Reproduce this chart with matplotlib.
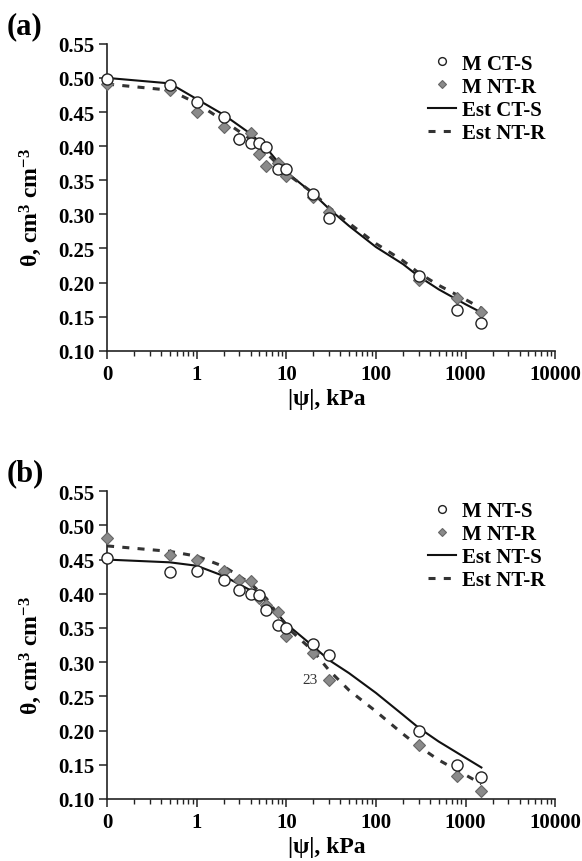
import numpy as np
import matplotlib
matplotlib.use('Agg')
import matplotlib.pyplot as plt
from matplotlib.ticker import FixedLocator, FixedFormatter, LogLocator, NullFormatter

plt.rcParams['font.family'] = ['Liberation Serif', 'DejaVu Serif']
plt.rcParams['font.weight'] = 'bold'
plt.rcParams['mathtext.fontset'] = 'custom'
plt.rcParams['mathtext.rm'] = 'Liberation Serif:bold'
plt.rcParams['mathtext.it'] = 'Liberation Serif:bold'
plt.rcParams['mathtext.bf'] = 'Liberation Serif:bold'

# ========== Data ==========
# measured suctions (kPa); 0 is drawn at the "0" tick (0.1 on the log axis)
psi_meas = [0, 0.5, 1, 2, 3, 4, 5, 6, 8, 10, 20, 30, 300, 800, 1500]
psi_est = [0, 0.5, 1, 2, 4, 6, 10, 20, 30, 50, 100, 200, 300, 500, 1000, 1500]

# panel (a)
a_m_cts = [0.498, 0.490, 0.465, 0.442, 0.410, 0.405, 0.405, 0.398, 0.366, 0.366,
           0.330, 0.294, 0.210, 0.159, 0.141]
a_m_ntr = [0.491, 0.482, 0.450, 0.428, 0.410, 0.419, 0.389, 0.371, 0.375, 0.356,
           0.326, 0.303, 0.203, 0.178, 0.157]
a_est_cts = [0.500, 0.492, 0.469, 0.446, 0.418, 0.397, 0.362, 0.330, 0.308, 0.283,
             0.252, 0.227, 0.209, 0.190, 0.168, 0.156]
a_est_ntr = [0.491, 0.482, 0.463, 0.437, 0.410, 0.390, 0.360, 0.331, 0.310, 0.287,
             0.257, 0.232, 0.214, 0.196, 0.175, 0.162]

# panel (b)
b_m_nts = [0.452, 0.432, 0.434, 0.420, 0.405, 0.399, 0.398, 0.376, 0.355, 0.350,
           0.326, 0.310, 0.200, 0.150, 0.132]
b_m_ntr = [0.482, 0.457, 0.450, 0.434, 0.420, 0.418, 0.394, 0.383, 0.374, 0.338,
           0.313, 0.274, 0.179, 0.134, 0.112]
b_est_nts = [0.450, 0.446, 0.441, 0.426, 0.405, 0.389, 0.356, 0.323, 0.303, 0.284,
             0.255, 0.223, 0.204, 0.184, 0.160, 0.146]
b_est_ntr = [0.470, 0.462, 0.455, 0.440, 0.415, 0.393, 0.352, 0.316, 0.288, 0.259,
             0.228, 0.195, 0.177, 0.157, 0.135, 0.122]

x_ticks = [0.1, 1, 10, 100, 1000, 10000]
x_ticklabels = ['0', '1', '10', '100', '1000', '10000']
y_ticks = [0.10, 0.15, 0.20, 0.25, 0.30, 0.35, 0.40, 0.45, 0.50, 0.55]


def xpos(v):
    v = np.asarray(v, dtype=float)
    return np.where(v == 0, 0.1, v)


def draw_panel(ax, m_s, m_r, est_s, est_r, labels, tag):
    ax.plot(xpos(psi_est), est_s, color='#111111', lw=1.5, ls='-', label=labels[2],
            zorder=2, clip_on=False)
    ax.plot(xpos(psi_est), est_r, color='#333333', lw=2.2, ls=(0, (2.3, 2.7)),
            label=labels[3], zorder=2, clip_on=False)
    ax.plot(xpos(psi_meas), m_r, ls='none', marker='D', ms=6.5, mfc='#8a8a8a',
            mec='#666666', mew=0.8, label=labels[1], zorder=3, clip_on=False)
    ax.plot(xpos(psi_meas), m_s, ls='none', marker='o', ms=8, mfc='white',
            mec='#222222', mew=1.0, label=labels[0], zorder=4, clip_on=False)

    ax.set_xscale('log')
    ax.set_xlim(0.1, 10000)
    ax.set_ylim(0.10, 0.55)
    ax.xaxis.set_major_locator(FixedLocator(x_ticks))
    ax.xaxis.set_major_formatter(FixedFormatter(x_ticklabels))
    ax.xaxis.set_minor_locator(LogLocator(base=10, subs=np.arange(2, 10), numticks=20))
    ax.xaxis.set_minor_formatter(NullFormatter())
    ax.set_yticks(y_ticks)
    ax.set_yticklabels(['%.2f' % v for v in y_ticks])

    for s in ['top', 'right']:
        ax.spines[s].set_visible(False)
    for s in ['left', 'bottom']:
        ax.spines[s].set_linewidth(1.2)
        ax.spines[s].set_color('#222222')
    ax.tick_params(axis='both', which='major', direction='out', length=6, width=1.1,
                   labelsize=15, colors='#222222', labelcolor='black')
    ax.tick_params(axis='x', which='minor', direction='out', length=3.5, width=1.0,
                   colors='#222222')
    ax.tick_params(axis='y', pad=3)

    ax.set_xlabel('|ψ|, kPa', fontsize=17, fontweight='bold')
    ax.set_ylabel(r'θ, cm$^{3}$ cm$^{-3}$', fontsize=17, fontweight='bold')
    ax.xaxis.set_label_coords(0.49, -0.12)
    ax.yaxis.set_label_coords(-0.14, 0.47)

    h, l = ax.get_legend_handles_labels()
    order = [3, 2, 0, 1]
    ax.legend([h[i] for i in order], [l[i] for i in order], loc='upper left',
              bbox_to_anchor=(0.715, 0.968), frameon=False, fontsize=15,
              handlelength=1.35, handletextpad=0.3, labelspacing=0.15,
              borderpad=0, borderaxespad=0, markerscale=0.7)

    ax.text(-0.225, 1.06, tag, transform=ax.transAxes, fontsize=22,
            fontweight='bold', ha='left', va='center')


fig = plt.figure(figsize=(5.82, 8.62), dpi=100)
ax1 = fig.add_axes([0.184, 0.592, 0.770, 0.356])
ax2 = fig.add_axes([0.184, 0.072, 0.770, 0.357])

draw_panel(ax1, a_m_cts, a_m_ntr, a_est_cts, a_est_ntr,
           ['M CT-S', 'M NT-R', 'Est CT-S', 'Est NT-R'], '(a)')
draw_panel(ax2, b_m_nts, b_m_ntr, b_est_nts, b_est_ntr,
           ['M NT-S', 'M NT-R', 'Est NT-S', 'Est NT-R'], '(b)')

ax2.text(18.5, 0.274, '23', fontsize=11, fontweight='normal', color='#333333',
         ha='center', va='center')

fig.savefig('out.png', dpi=100)
